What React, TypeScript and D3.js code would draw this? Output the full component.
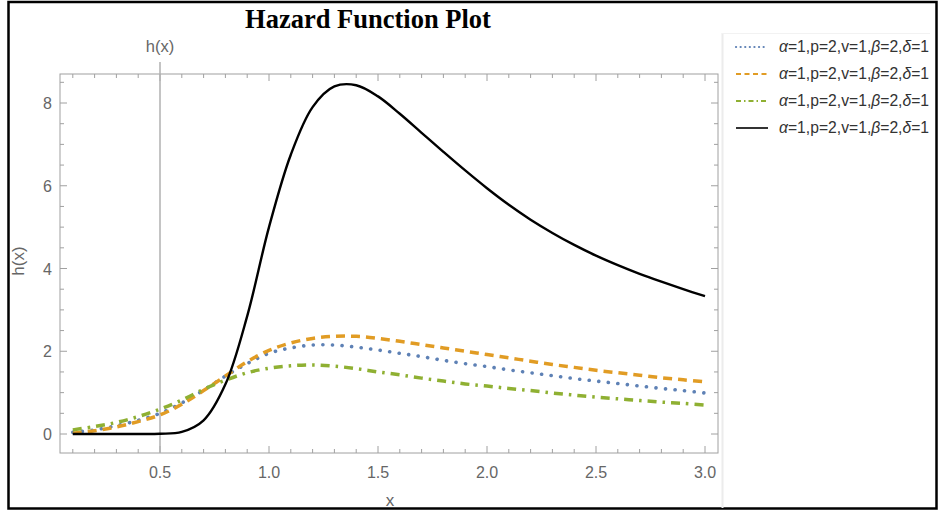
import React from 'react';
import * as d3 from 'd3';

const xs = [0.1, 0.2, 0.3, 0.4, 0.5, 0.6, 0.7, 0.8, 0.9, 1.0, 1.1, 1.2, 1.3, 1.4, 1.5, 1.6, 1.7, 1.8, 1.9, 2.0, 2.1, 2.2, 2.3, 2.4, 2.5, 2.6, 2.7, 2.8, 2.9, 3.0];

const blueVals = [0.04, 0.1, 0.2, 0.33, 0.5, 0.75, 1.06, 1.4, 1.7, 1.95, 2.08, 2.15, 2.15, 2.1, 2.03, 1.95, 1.87, 1.78, 1.7, 1.63, 1.55, 1.48, 1.41, 1.34, 1.28, 1.22, 1.16, 1.1, 1.05, 0.99];
const orangeVals = [0.02, 0.08, 0.17, 0.3, 0.46, 0.72, 1.05, 1.4, 1.75, 2.02, 2.2, 2.31, 2.36, 2.36, 2.31, 2.24, 2.16, 2.08, 2.0, 1.92, 1.84, 1.76, 1.68, 1.61, 1.54, 1.48, 1.42, 1.36, 1.31, 1.26];
const greenVals = [0.1, 0.18, 0.28, 0.42, 0.6, 0.82, 1.08, 1.3, 1.48, 1.59, 1.65, 1.67, 1.64, 1.58, 1.5, 1.43, 1.35, 1.28, 1.21, 1.16, 1.1, 1.05, 0.99, 0.94, 0.89, 0.85, 0.81, 0.77, 0.74, 0.7];
const blackVals = [0, 0, 0, 0, 0.005, 0.05, 0.33, 1.2, 2.85, 5.0, 6.75, 7.9, 8.4, 8.43, 8.16, 7.74, 7.28, 6.82, 6.37, 5.94, 5.54, 5.18, 4.86, 4.57, 4.31, 4.08, 3.87, 3.68, 3.5, 3.33];

const xTicks = [0.5, 1.0, 1.5, 2.0, 2.5, 3.0];
const yTicks = [0, 2, 4, 6, 8];
const legendLabel = ['α', '=1,p=2,v=1,', 'β', '=2,', 'δ', '=1'];

const series = [
  { name: 'blue', values: blueVals, color: '#5E81B5', dash: '0.1,9.5', width: 3.6, cap: 'round' },
  { name: 'orange', values: orangeVals, color: '#E19C24', dash: '9,6', width: 3.5, cap: 'butt' },
  { name: 'green', values: greenVals, color: '#8FB032', dash: '9,6,2.5,6', width: 3.5, cap: 'butt' },
  { name: 'black', values: blackVals, color: '#000000', dash: 'none', width: 2.4, cap: 'butt' },
];

const W = 941;
const H = 511;
const frame = { left: 60, right: 718, top: 74, bottom: 453 };

export default function App() {
  const x = d3.scaleLinear().domain([0.5, 3.0]).range([160, 705]);
  const y = d3.scaleLinear().domain([0, 8]).range([434, 103]);

  const line = d3
    .line<number>()
    .x((_, i) => x(xs[i]))
    .y((d) => y(d))
    .curve(d3.curveCatmullRom.alpha(0.5));

  const xMin = x.invert(frame.left);
  const xMax = x.invert(frame.right);
  const yMin = y.invert(frame.bottom);
  const yMax = y.invert(frame.top);

  const xMinor = d3.range(Math.ceil(xMin * 10), Math.floor(xMax * 10) + 1).map((k) => k / 10);
  const yMinor = d3.range(Math.ceil(yMin * 2), Math.floor(yMax * 2) + 1).map((k) => k / 2);

  const tickColor = '#a0a0a0';
  const labelColor = '#666';
  const font = 'Liberation Sans, Arial, sans-serif';

  return (
    <svg width={W} height={H} style={{ position: 'absolute', left: 0, top: 0, background: '#fff' }}>
      <rect x={0} y={0} width={W} height={H} fill="#fff" />
      {/* outer border */}
      <rect x={8.5} y={2} width={928} height={506.5} fill="none" stroke="#000" strokeWidth={2.5} />

      <text x={368} y={28} textAnchor="middle" fontFamily="Liberation Serif, Times New Roman, serif" fontWeight="bold" fontSize={26.5} fill="#000">
        Hazard Function Plot
      </text>

      {/* legend separator */}
      <line x1={722.5} x2={722.5} y1={33} y2={508} stroke="#ececec" strokeWidth={2} />
      <line x1={722} x2={930} y1={33.5} y2={33.5} stroke="#f2f2f2" strokeWidth={1} />

      {/* frame */}
      <rect x={frame.left} y={frame.top} width={frame.right - frame.left} height={frame.bottom - frame.top} fill="none" stroke={tickColor} strokeWidth={1} />

      {/* x ticks (bottom and top) */}
      {xMinor.map((t) => {
        const major = xTicks.some((m) => Math.abs(m - t) < 1e-6);
        const len = major ? 7 : 4;
        return (
          <g key={'xt' + t}>
            <line x1={x(t)} x2={x(t)} y1={frame.bottom} y2={frame.bottom - len} stroke={tickColor} />
            <line x1={x(t)} x2={x(t)} y1={frame.top} y2={frame.top + len} stroke={tickColor} />
          </g>
        );
      })}
      {xTicks.map((t) => (
        <text key={'xl' + t} x={x(t)} y={478} textAnchor="middle" fontFamily={font} fontSize={16} fill={labelColor}>
          {t.toFixed(1)}
        </text>
      ))}

      {/* y ticks (left and right) */}
      {yMinor.map((t) => {
        const major = yTicks.some((m) => Math.abs(m - t) < 1e-6);
        const len = major ? 7 : 4;
        return (
          <g key={'yt' + t}>
            <line x1={frame.left} x2={frame.left + len} y1={y(t)} y2={y(t)} stroke={tickColor} />
            <line x1={frame.right} x2={frame.right - len} y1={y(t)} y2={y(t)} stroke={tickColor} />
          </g>
        );
      })}
      {yTicks.map((t) => (
        <text key={'yl' + t} x={52} y={y(t) + 6} textAnchor="end" fontFamily={font} fontSize={16} fill={labelColor}>
          {t}
        </text>
      ))}

      {/* axis line at x = 0.5 */}
      <line x1={x(0.5)} x2={x(0.5)} y1={62} y2={frame.bottom} stroke="#b0b0b0" strokeWidth={1.5} />
      <text x={x(0.5)} y={52} textAnchor="middle" fontFamily={font} fontSize={16.5} fill={labelColor}>
        h(x)
      </text>

      {/* axis labels */}
      <text x={390} y={506} textAnchor="middle" fontFamily={font} fontSize={17} fill={labelColor}>
        x
      </text>
      <text transform="translate(24,261) rotate(-90)" textAnchor="middle" fontFamily={font} fontSize={17} fill={labelColor}>
        h(x)
      </text>

      {/* curves */}
      {series.map((s) => (
        <path
          key={s.name}
          d={line(s.values) || ''}
          fill="none"
          stroke={s.color}
          strokeWidth={s.width}
          strokeDasharray={s.dash}
          strokeLinecap={s.cap as any}
        />
      ))}

      {/* legend */}
      {series.map((s, i) => {
        const ly = 47 + i * 27;
        return (
          <g key={'lg' + s.name}>
            <line
              x1={736}
              x2={768}
              y1={ly}
              y2={ly}
              stroke={s.color}
              strokeWidth={s.name === 'black' ? 1.6 : 2.2}
              strokeDasharray={s.name === 'blue' ? '0.1,4.5' : s.name === 'orange' ? '5,3.5' : s.name === 'green' ? '5,3,1.5,3' : 'none'}
              strokeLinecap={s.cap as any}
            />
            <text x={779} y={ly + 5} fontFamily={font} fontSize={15.7} fill="#333">
              {legendLabel.map((p, j) => (
                <tspan key={j} fontStyle={j % 2 === 0 ? 'italic' : 'normal'}>
                  {p}
                </tspan>
              ))}
            </text>
          </g>
        );
      })}
    </svg>
  );
}
